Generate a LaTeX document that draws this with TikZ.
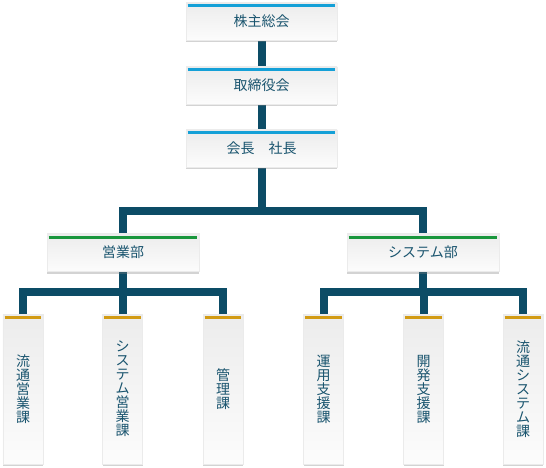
\documentclass[tikz,border=0pt]{standalone}
\usepackage{fontspec}
\newfontfamily\jp{Noto Sans CJK JP}
\usetikzlibrary{shadows,backgrounds}
\definecolor{conn}{RGB}{12,76,102}
\definecolor{txt}{RGB}{25,84,110}
\definecolor{lblue}{RGB}{20,160,215}
\definecolor{lgreen}{RGB}{25,150,60}
\definecolor{lgold}{RGB}{210,155,20}
\definecolor{boxtop}{RGB}{236,236,236}
\definecolor{boxbot}{RGB}{252,252,252}
\tikzset{
 box/.style={rectangle, inner sep=0pt, top color=boxtop, bottom color=boxbot,
   draw=black!8, line width=0.6bp, text=txt, align=center,
   font=\jp\fontsize{14bp}{14bp}\selectfont,
   drop shadow={shadow xshift=0bp, shadow yshift=-2bp, opacity=0.35, fill=black!50}},
 wbox/.style={box, minimum width=151bp, minimum height=37bp},
 mbox/.style={box, minimum width=152bp, minimum height=38bp},
 sbox/.style={box, minimum width=40bp, minimum height=150bp},
 accent/.style={line width=3bp},
 link/.style={draw=conn, line width=8bp, line join=miter}
}
\begin{document}
\begin{tikzpicture}[x=1bp,y=-1bp]
\useasboundingbox (0,0) rectangle (546,468);
% top chain
\node[wbox] (kabu) at (261.5,21.5) {株主総会};
\node[wbox] (tori) at (261.5,85.5) {取締役会};
\node[wbox] (pres) at (261.5,148.5) {会長　社長};
% departments
\node[mbox] (eigyo) at (123,252.5) {営業部};
\node[mbox] (sys) at (423,252.5) {システム部};
% sections
\node[sbox] (k1) at (23,389) {流\\通\\営\\業\\課};
\node[sbox] (k2) at (122.5,389) {シ\\ス\\テ\\ム\\営\\業\\課};
\node[sbox] (k3) at (223,389) {管\\理\\課};
\node[sbox] (k4) at (323.5,389) {運\\用\\支\\援\\課};
\node[sbox] (k5) at (423.5,389) {開\\発\\支\\援\\課};
\node[sbox] (k6) at (523,389) {流\\通\\シ\\ス\\テ\\ム\\課};
% accent lines
\foreach \n in {kabu,tori,pres}
  \draw[accent,lblue] ([xshift=2bp,yshift=-2.5bp]\n.north west) -- ([xshift=-2bp,yshift=-2.5bp]\n.north east);
\foreach \n in {eigyo,sys}
  \draw[accent,lgreen] ([xshift=2bp,yshift=-4bp]\n.north west) -- ([xshift=-2bp,yshift=-4bp]\n.north east);
\foreach \n in {k1,k2,k3,k4,k5,k6}
  \draw[accent,lgold] ([xshift=2bp,yshift=-3.5bp]\n.north west) -- ([xshift=-2bp,yshift=-3.5bp]\n.north east);
% junctions
\coordinate (j1) at (261.5,211);
\coordinate (j2) at (0,292);
% connectors
\begin{scope}[on background layer]
\draw[link] (kabu.south) -- (tori.north);
\draw[link] (tori.south) -- (pres.north);
\draw[link] (pres.south) -- (j1);
\draw[link] (eigyo.north) -- (eigyo.north |- j1) -- (sys.north |- j1) -- (sys.north);
\draw[link] (eigyo.south) -- (eigyo.south |- j2);
\draw[link] (k1.north) -- (k1.north |- j2) -- (k3.north |- j2) -- (k3.north);
\draw[link] (k2.north) -- (k2.north |- j2);
\draw[link] (sys.south) -- (sys.south |- j2);
\draw[link] (k4.north) -- (k4.north |- j2) -- (k6.north |- j2) -- (k6.north);
\draw[link] (k5.north) -- (k5.north |- j2);
\end{scope}
\end{tikzpicture}
\end{document}
